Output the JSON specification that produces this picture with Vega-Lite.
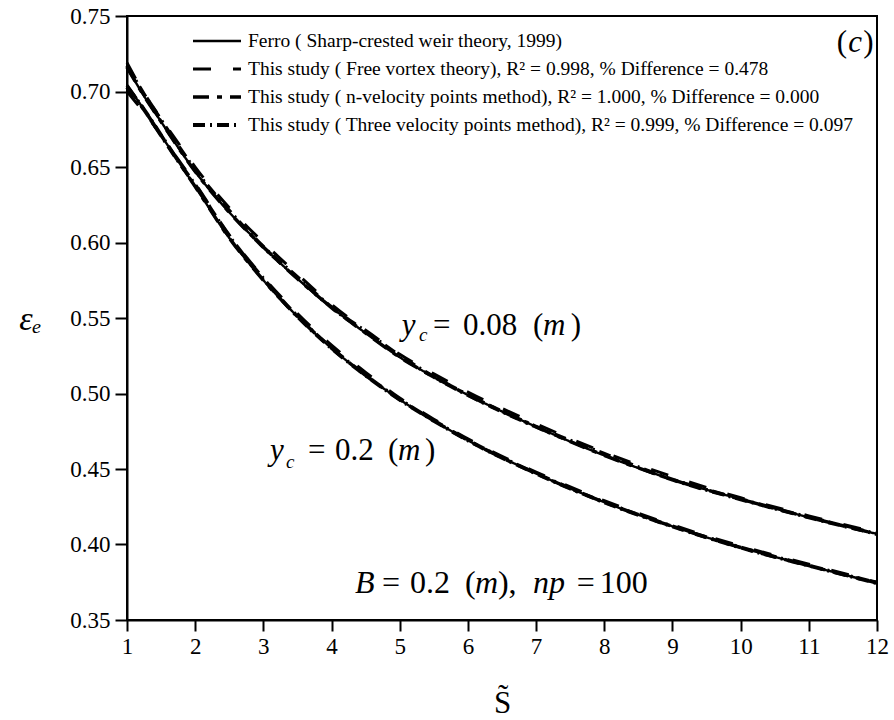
{
  "$schema": "https://vega.github.io/schema/vega-lite/v6.json",
  "width": 750,
  "height": 604,
  "autosize": "none",
  "padding": {"left": 127, "top": 16, "right": 17, "bottom": 100},
  "background": "white",
  "config": {
    "view": {"stroke": "black", "strokeWidth": 2},
    "font": "Liberation Serif, Times New Roman, serif",
    "axis": {"labelFont": "Liberation Serif, Times New Roman, serif", "titleFont": "Liberation Serif, Times New Roman, serif", "labelColor": "black", "titleColor": "black", "domainColor": "black", "tickColor": "black", "grid": false, "domainWidth": 2, "tickWidth": 2, "titleFontWeight": "normal"},
    "legend": {"labelFont": "Liberation Serif, Times New Roman, serif", "labelColor": "black"}
  },
  "datasets": {
    "curves": [
      {"k":"F","c":"0.08","s":1,"e":0.716},{"k":"F","c":"0.08","s":1.25,"e":0.697},{"k":"F","c":"0.08","s":1.5,"e":0.680},{"k":"F","c":"0.08","s":1.75,"e":0.663},{"k":"F","c":"0.08","s":2,"e":0.647},{"k":"F","c":"0.08","s":2.5,"e":0.620},{"k":"F","c":"0.08","s":3,"e":0.597},{"k":"F","c":"0.08","s":3.5,"e":0.576},{"k":"F","c":"0.08","s":4,"e":0.557},{"k":"F","c":"0.08","s":4.5,"e":0.540},{"k":"F","c":"0.08","s":5,"e":0.524},{"k":"F","c":"0.08","s":5.5,"e":0.511},{"k":"F","c":"0.08","s":6,"e":0.499},{"k":"F","c":"0.08","s":7,"e":0.478},{"k":"F","c":"0.08","s":8,"e":0.459},{"k":"F","c":"0.08","s":9,"e":0.443},{"k":"F","c":"0.08","s":10,"e":0.430},{"k":"F","c":"0.08","s":11,"e":0.418},{"k":"F","c":"0.08","s":12,"e":0.407},
      {"k":"F","c":"0.2","s":1,"e":0.704},{"k":"F","c":"0.2","s":1.25,"e":0.688},{"k":"F","c":"0.2","s":1.5,"e":0.671},{"k":"F","c":"0.2","s":1.75,"e":0.654},{"k":"F","c":"0.2","s":2,"e":0.637},{"k":"F","c":"0.2","s":2.5,"e":0.603},{"k":"F","c":"0.2","s":3,"e":0.575},{"k":"F","c":"0.2","s":3.5,"e":0.551},{"k":"F","c":"0.2","s":4,"e":0.530},{"k":"F","c":"0.2","s":4.5,"e":0.512},{"k":"F","c":"0.2","s":5,"e":0.496},{"k":"F","c":"0.2","s":5.5,"e":0.482},{"k":"F","c":"0.2","s":6,"e":0.469},{"k":"F","c":"0.2","s":7,"e":0.447},{"k":"F","c":"0.2","s":8,"e":0.428},{"k":"F","c":"0.2","s":9,"e":0.412},{"k":"F","c":"0.2","s":10,"e":0.398},{"k":"F","c":"0.2","s":11,"e":0.386},{"k":"F","c":"0.2","s":12,"e":0.3745},
      {"k":"V","c":"0.08","s":1,"e":0.719},{"k":"V","c":"0.08","s":1.25,"e":0.699},{"k":"V","c":"0.08","s":1.5,"e":0.682},{"k":"V","c":"0.08","s":1.75,"e":0.666},{"k":"V","c":"0.08","s":2,"e":0.650},{"k":"V","c":"0.08","s":2.5,"e":0.623},{"k":"V","c":"0.08","s":3,"e":0.600},{"k":"V","c":"0.08","s":3.5,"e":0.579},{"k":"V","c":"0.08","s":4,"e":0.559},{"k":"V","c":"0.08","s":4.5,"e":0.542},{"k":"V","c":"0.08","s":5,"e":0.526},{"k":"V","c":"0.08","s":5.5,"e":0.513},{"k":"V","c":"0.08","s":6,"e":0.501},{"k":"V","c":"0.08","s":7,"e":0.480},{"k":"V","c":"0.08","s":8,"e":0.461},{"k":"V","c":"0.08","s":9,"e":0.445},{"k":"V","c":"0.08","s":10,"e":0.431},{"k":"V","c":"0.08","s":11,"e":0.419},{"k":"V","c":"0.08","s":12,"e":0.408},
      {"k":"V","c":"0.2","s":1,"e":0.700},{"k":"V","c":"0.2","s":1.25,"e":0.686},{"k":"V","c":"0.2","s":1.5,"e":0.671},{"k":"V","c":"0.2","s":1.75,"e":0.655},{"k":"V","c":"0.2","s":2,"e":0.639},{"k":"V","c":"0.2","s":2.5,"e":0.605},{"k":"V","c":"0.2","s":3,"e":0.577},{"k":"V","c":"0.2","s":3.5,"e":0.553},{"k":"V","c":"0.2","s":4,"e":0.532},{"k":"V","c":"0.2","s":4.5,"e":0.514},{"k":"V","c":"0.2","s":5,"e":0.497},{"k":"V","c":"0.2","s":5.5,"e":0.483},{"k":"V","c":"0.2","s":6,"e":0.470},{"k":"V","c":"0.2","s":7,"e":0.448},{"k":"V","c":"0.2","s":8,"e":0.429},{"k":"V","c":"0.2","s":9,"e":0.413},{"k":"V","c":"0.2","s":10,"e":0.399},{"k":"V","c":"0.2","s":11,"e":0.387},{"k":"V","c":"0.2","s":12,"e":0.375},
      {"k":"N","c":"0.08","s":1,"e":0.716},{"k":"N","c":"0.08","s":1.25,"e":0.697},{"k":"N","c":"0.08","s":1.5,"e":0.680},{"k":"N","c":"0.08","s":1.75,"e":0.663},{"k":"N","c":"0.08","s":2,"e":0.647},{"k":"N","c":"0.08","s":2.5,"e":0.620},{"k":"N","c":"0.08","s":3,"e":0.597},{"k":"N","c":"0.08","s":3.5,"e":0.576},{"k":"N","c":"0.08","s":4,"e":0.557},{"k":"N","c":"0.08","s":4.5,"e":0.540},{"k":"N","c":"0.08","s":5,"e":0.524},{"k":"N","c":"0.08","s":5.5,"e":0.511},{"k":"N","c":"0.08","s":6,"e":0.499},{"k":"N","c":"0.08","s":7,"e":0.478},{"k":"N","c":"0.08","s":8,"e":0.459},{"k":"N","c":"0.08","s":9,"e":0.443},{"k":"N","c":"0.08","s":10,"e":0.430},{"k":"N","c":"0.08","s":11,"e":0.418},{"k":"N","c":"0.08","s":12,"e":0.407},
      {"k":"N","c":"0.2","s":1,"e":0.704},{"k":"N","c":"0.2","s":1.25,"e":0.688},{"k":"N","c":"0.2","s":1.5,"e":0.671},{"k":"N","c":"0.2","s":1.75,"e":0.654},{"k":"N","c":"0.2","s":2,"e":0.637},{"k":"N","c":"0.2","s":2.5,"e":0.603},{"k":"N","c":"0.2","s":3,"e":0.575},{"k":"N","c":"0.2","s":3.5,"e":0.551},{"k":"N","c":"0.2","s":4,"e":0.530},{"k":"N","c":"0.2","s":4.5,"e":0.512},{"k":"N","c":"0.2","s":5,"e":0.496},{"k":"N","c":"0.2","s":5.5,"e":0.482},{"k":"N","c":"0.2","s":6,"e":0.469},{"k":"N","c":"0.2","s":7,"e":0.447},{"k":"N","c":"0.2","s":8,"e":0.428},{"k":"N","c":"0.2","s":9,"e":0.412},{"k":"N","c":"0.2","s":10,"e":0.398},{"k":"N","c":"0.2","s":11,"e":0.386},{"k":"N","c":"0.2","s":12,"e":0.3745},
      {"k":"T","c":"0.08","s":1,"e":0.717},{"k":"T","c":"0.08","s":1.25,"e":0.698},{"k":"T","c":"0.08","s":1.5,"e":0.681},{"k":"T","c":"0.08","s":1.75,"e":0.664},{"k":"T","c":"0.08","s":2,"e":0.648},{"k":"T","c":"0.08","s":2.5,"e":0.621},{"k":"T","c":"0.08","s":3,"e":0.597},{"k":"T","c":"0.08","s":3.5,"e":0.577},{"k":"T","c":"0.08","s":4,"e":0.557},{"k":"T","c":"0.08","s":4.5,"e":0.541},{"k":"T","c":"0.08","s":5,"e":0.525},{"k":"T","c":"0.08","s":5.5,"e":0.511},{"k":"T","c":"0.08","s":6,"e":0.499},{"k":"T","c":"0.08","s":7,"e":0.478},{"k":"T","c":"0.08","s":8,"e":0.460},{"k":"T","c":"0.08","s":9,"e":0.443},{"k":"T","c":"0.08","s":10,"e":0.430},{"k":"T","c":"0.08","s":11,"e":0.418},{"k":"T","c":"0.08","s":12,"e":0.407},
      {"k":"T","c":"0.2","s":1,"e":0.703},{"k":"T","c":"0.2","s":1.25,"e":0.688},{"k":"T","c":"0.2","s":1.5,"e":0.671},{"k":"T","c":"0.2","s":1.75,"e":0.654},{"k":"T","c":"0.2","s":2,"e":0.638},{"k":"T","c":"0.2","s":2.5,"e":0.604},{"k":"T","c":"0.2","s":3,"e":0.576},{"k":"T","c":"0.2","s":3.5,"e":0.551},{"k":"T","c":"0.2","s":4,"e":0.530},{"k":"T","c":"0.2","s":4.5,"e":0.512},{"k":"T","c":"0.2","s":5,"e":0.496},{"k":"T","c":"0.2","s":5.5,"e":0.482},{"k":"T","c":"0.2","s":6,"e":0.469},{"k":"T","c":"0.2","s":7,"e":0.447},{"k":"T","c":"0.2","s":8,"e":0.428},{"k":"T","c":"0.2","s":9,"e":0.412},{"k":"T","c":"0.2","s":10,"e":0.398},{"k":"T","c":"0.2","s":11,"e":0.386},{"k":"T","c":"0.2","s":12,"e":0.3745}
    ],
    "eqItal": [
      {"x":5.028,"y":0.5388,"t":"y"},{"x":7.10,"y":0.5388,"t":"m"},
      {"x":3.097,"y":0.4561,"t":"y"},{"x":4.974,"y":0.4561,"t":"m"},
      {"x":11.58,"y":0.726,"t":"c"}
    ],
    "eqUp": [
      {"x":5.487,"y":0.5388,"t":"="},{"x":5.927,"y":0.5388,"t":"0.08"},{"x":6.953,"y":0.5388,"t":"("},{"x":7.51,"y":0.5388,"t":")"},
      {"x":3.654,"y":0.4561,"t":"="},{"x":4.05,"y":0.4561,"t":"0.2"},{"x":4.827,"y":0.4561,"t":"("},{"x":5.37,"y":0.4561,"t":")"},
      {"x":11.41,"y":0.726,"t":"("},{"x":11.80,"y":0.726,"t":")"}
    ],
    "eqSub": [
      {"x":5.282,"y":0.5349,"t":"c"},{"x":3.331,"y":0.4506,"t":"c"}
    ],
    "bigItal": [
      {"x":4.343,"y":0.3682,"t":"B"},{"x":6.103,"y":0.3682,"t":"m"},{"x":6.953,"y":0.3682,"t":"np"}
    ],
    "bigUp": [
      {"x":4.739,"y":0.3682,"t":"="},{"x":5.15,"y":0.3682,"t":"0.2"},{"x":5.956,"y":0.3682,"t":"("},{"x":6.44,"y":0.3682,"t":"),"},{"x":7.598,"y":0.3682,"t":"="},{"x":7.935,"y":0.3682,"t":"100"}
    ]
  },
  "layer": [
    {
      "data": {"name": "curves"},
      "mark": {"type": "line", "color": "black", "interpolate": "monotone", "strokeCap": "butt"},
      "encoding": {
        "x": {"field": "s", "type": "quantitative",
          "scale": {"domain": [1, 12], "nice": false, "zero": false},
          "axis": {"values": [1,1.5,2,2.5,3,3.5,4,4.5,5,5.5,6,6.5,7,7.5,8,8.5,9,9.5,10,10.5,11,11.5,12],
            "labelExpr": "datum.value % 1 ? '' : format(datum.value, 'd')",
            "tickSize": {"condition": {"test": "datum.value % 1 !== 0", "value": 6}, "value": 11},
            "labelFont": "Liberation Serif, Times New Roman, serif",
            "labelFontSize": 23, "labelPadding": 4, "labelFlush": false,
            "title": "S̃", "titleFontSize": 31, "titleBaseline": "alphabetic", "titleY": 92, "titleX": 375}},
        "y": {"field": "e", "type": "quantitative",
          "scale": {"domain": [0.35, 0.75], "nice": false, "zero": false},
          "axis": {"values": [0.35,0.375,0.4,0.425,0.45,0.475,0.5,0.525,0.55,0.575,0.6,0.625,0.65,0.675,0.7,0.725,0.75],
            "labelExpr": "round(datum.value*1000) % 50 ? '' : format(datum.value, '.2f')",
            "tickSize": {"condition": {"test": "round(datum.value*1000) % 50 !== 0", "value": 6}, "value": 12},
            "labelFont": "Liberation Serif, Times New Roman, serif",
            "labelFontSize": 23, "labelPadding": 5, "labelFlush": false,
            "title": "εₑ", "titleFontSize": 34, "titleFontStyle": "italic", "titleAngle": 0,
            "titleX": -97, "titleY": 303, "titleAlign": "center", "titleBaseline": "middle"}},
        "detail": {"field": "c"},
        "strokeDash": {"field": "k", "type": "nominal",
          "scale": {"domain": ["F","V","N","T"], "range": [[1,0],[18,22],[16,8,5,8],[12,5,2,5]]},
          "legend": {"orient": "none", "legendX": 64, "legendY": 16, "title": null, "symbolType": "stroke", "symbolSize": 2304, "symbolStrokeColor": "black", "clipHeight": 18, "rowPadding": 8, "labelOffset": 5, "labelFontSize": 19.5, "labelLimit": 0, "padding": 0,
            "labelExpr": "datum.value == 'F' ? 'Ferro ( Sharp-crested weir theory, 1999)' : datum.value == 'V' ? 'This study ( Free vortex theory), R² = 0.998, % Difference = 0.478' : datum.value == 'N' ? 'This study ( n-velocity points method), R² = 1.000, % Difference = 0.000' : 'This study ( Three velocity points method), R² = 0.999, % Difference = 0.097'"}},
        "strokeWidth": {"field": "k", "type": "nominal",
          "scale": {"domain": ["F","V","N","T"], "range": [2.4, 4, 2.2, 2]},
          "legend": {"orient": "none", "legendX": 64, "legendY": 16, "title": null, "symbolType": "stroke", "symbolSize": 2304, "symbolStrokeColor": "black", "clipHeight": 18, "rowPadding": 8, "labelOffset": 5, "labelFontSize": 19.5, "labelLimit": 0, "padding": 0,
            "labelExpr": "datum.value == 'F' ? 'Ferro ( Sharp-crested weir theory, 1999)' : datum.value == 'V' ? 'This study ( Free vortex theory), R² = 0.998, % Difference = 0.478' : datum.value == 'N' ? 'This study ( n-velocity points method), R² = 1.000, % Difference = 0.000' : 'This study ( Three velocity points method), R² = 0.999, % Difference = 0.097'"}}
      }
    },
    {
      "data": {"name": "eqItal"},
      "mark": {"type": "text", "align": "left", "baseline": "alphabetic", "fontSize": 31, "fontStyle": "italic", "font": "Liberation Serif, Times New Roman, serif", "color": "black"},
      "encoding": {"x": {"field": "x", "type": "quantitative"}, "y": {"field": "y", "type": "quantitative"}, "text": {"field": "t"}}
    },
    {
      "data": {"name": "eqUp"},
      "mark": {"type": "text", "align": "left", "baseline": "alphabetic", "fontSize": 31, "font": "Liberation Serif, Times New Roman, serif", "color": "black"},
      "encoding": {"x": {"field": "x", "type": "quantitative"}, "y": {"field": "y", "type": "quantitative"}, "text": {"field": "t"}}
    },
    {
      "data": {"name": "eqSub"},
      "mark": {"type": "text", "align": "left", "baseline": "alphabetic", "fontSize": 19, "fontStyle": "italic", "font": "Liberation Serif, Times New Roman, serif", "color": "black"},
      "encoding": {"x": {"field": "x", "type": "quantitative"}, "y": {"field": "y", "type": "quantitative"}, "text": {"field": "t"}}
    },
    {
      "data": {"name": "bigItal"},
      "mark": {"type": "text", "align": "left", "baseline": "alphabetic", "fontSize": 32, "fontStyle": "italic", "font": "Liberation Serif, Times New Roman, serif", "color": "black"},
      "encoding": {"x": {"field": "x", "type": "quantitative"}, "y": {"field": "y", "type": "quantitative"}, "text": {"field": "t"}}
    },
    {
      "data": {"name": "bigUp"},
      "mark": {"type": "text", "align": "left", "baseline": "alphabetic", "fontSize": 32, "font": "Liberation Serif, Times New Roman, serif", "color": "black"},
      "encoding": {"x": {"field": "x", "type": "quantitative"}, "y": {"field": "y", "type": "quantitative"}, "text": {"field": "t"}}
    }
  ]
}
